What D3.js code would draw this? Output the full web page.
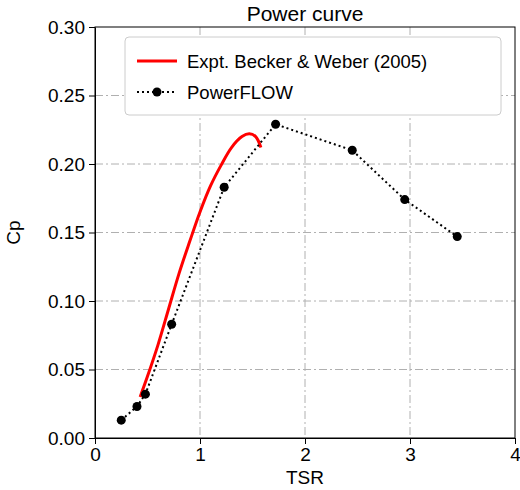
<!DOCTYPE html>
<html><head><meta charset="utf-8">
<script src="https://cdn.jsdelivr.net/npm/d3@7"></script>
<style>body{margin:0;background:#fff;font-family:"Liberation Sans",Arial,sans-serif}</style>
</head><body><svg id="c" width="520" height="490"></svg>
<script>
// experimental curve (Becker & Weber 2005)
const exptTsr = [0.43, 0.5, 0.6, 0.7, 0.8, 0.9, 1.0, 1.1, 1.2, 1.3, 1.4, 1.47, 1.53, 1.58];
const exptCp  = [0.030, 0.045, 0.068, 0.094, 0.120, 0.143, 0.165, 0.184, 0.199, 0.212, 0.220, 0.222, 0.220, 0.212];
// PowerFLOW simulation
const pfTsr = [0.25, 0.40, 0.48, 0.73, 1.23, 1.72, 2.45, 2.95, 3.45];
const pfCp  = [0.013, 0.023, 0.032, 0.083, 0.183, 0.229, 0.210, 0.174, 0.147];
const xTicks = [0, 1, 2, 3, 4];
const yTicks = [0, 0.05, 0.10, 0.15, 0.20, 0.25, 0.30];

let svg = d3.select("#c");
let m = {l: 95, r: 5, t: 27, b: 52};
let W = 520 - m.l - m.r, H = 490 - m.t - m.b;
let g = svg.append("g").attr("transform", `translate(${m.l},${m.t})`);

let x = d3.scaleLinear().domain([0, 4]).range([0, W]);
let y = d3.scaleLinear().domain([0, 0.30]).range([H, 0]);

// grid
g.selectAll(".gx").data(xTicks.slice(1, -1)).join("line")
  .attr("x1", d => x(d)).attr("x2", d => x(d)).attr("y1", 0).attr("y2", H)
  .attr("stroke", "#b0b0b0").attr("stroke-dasharray", "8,3,2,3");
g.selectAll(".gy").data(yTicks.slice(1, -1)).join("line")
  .attr("y1", d => y(d)).attr("y2", d => y(d)).attr("x1", 0).attr("x2", W)
  .attr("stroke", "#b0b0b0").attr("stroke-dasharray", "8,3,2,3");

let xa = g.append("g").attr("transform", `translate(0,${H})`)
  .call(d3.axisBottom(x).tickValues(xTicks).tickFormat(d3.format("d")).tickSizeOuter(0).tickPadding(4));
let ya = g.append("g")
  .call(d3.axisLeft(y).tickValues(yTicks).tickFormat(d3.format(".2f")).tickSizeOuter(0).tickPadding(4));
[xa, ya].forEach(a => {
  a.selectAll("text").attr("font-size", 19).attr("fill", "#000").attr("font-family", "Liberation Sans, Arial, sans-serif");
  a.selectAll("line").attr("stroke", "#000");
});
g.append("rect").attr("width", W).attr("height", H).attr("fill", "none").attr("stroke", "#000");

g.append("path").datum(exptTsr.map((t, i) => [t, exptCp[i]]))
  .attr("d", d3.line().x(d => x(d[0])).y(d => y(d[1])).curve(d3.curveCatmullRom))
  .attr("fill", "none").attr("stroke", "red").attr("stroke-width", 3);
let pf = pfTsr.map((t, i) => [t, pfCp[i]]);
g.append("path").datum(pf).attr("d", d3.line().x(d => x(d[0])).y(d => y(d[1])))
  .attr("fill", "none").attr("stroke", "#000").attr("stroke-width", 2).attr("stroke-dasharray", "2,3");
g.selectAll(".pt").data(pf).join("circle")
  .attr("cx", d => x(d[0])).attr("cy", d => y(d[1])).attr("r", 4.5).attr("fill", "#000");

// legend
let lg = g.append("g").attr("transform", "translate(30,10)");
lg.append("rect").attr("width", 376).attr("height", 78).attr("rx", 4)
  .attr("fill", "#fff").attr("stroke", "#ccc");
lg.append("line").attr("x1", 12).attr("x2", 52).attr("y1", 24).attr("y2", 24).attr("stroke", "red").attr("stroke-width", 3);
lg.append("line").attr("x1", 12).attr("x2", 52).attr("y1", 55).attr("y2", 55).attr("stroke", "#000").attr("stroke-width", 2).attr("stroke-dasharray", "2,3");
lg.append("circle").attr("cx", 32).attr("cy", 55).attr("r", 4.5);
lg.append("text").attr("x", 62).attr("y", 31).attr("font-size", 18.5).text("Expt. Becker & Weber (2005)");
lg.append("text").attr("x", 62).attr("y", 62).attr("font-size", 18.5).text("PowerFLOW");

svg.append("text").attr("x", m.l + W / 2).attr("y", 21).attr("text-anchor", "middle").attr("font-size", 21).text("Power curve");
svg.append("text").attr("x", m.l + W / 2).attr("y", 484).attr("text-anchor", "middle").attr("font-size", 19).text("TSR");
svg.append("text").attr("transform", `translate(20,${m.t + H / 2}) rotate(-90)`).attr("text-anchor", "middle").attr("font-size", 19).text("Cp");
</script></body></html>
